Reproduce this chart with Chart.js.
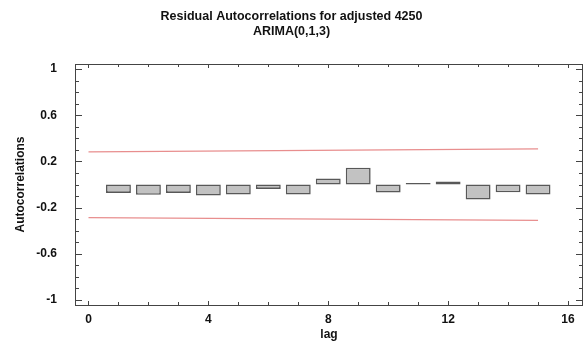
<!DOCTYPE html>
<html>
<head>
<meta charset="utf-8">
<script src="https://cdn.jsdelivr.net/npm/chart.js@4/dist/chart.umd.min.js"></script>
<style>
html,body{margin:0;padding:0;background:#fff;}
#wrap{width:584px;height:343px;}
</style>
</head>
<body>
<div id="wrap"><canvas id="c" width="584" height="343"></canvas></div>
<script>
// ---- data ----
const lags = [1,2,3,4,5,6,7,8,9,10,11,12,13,14,15];
const acf = [-0.073,-0.089,-0.073,-0.096,-0.087,-0.038,-0.087,0.053,0.146,-0.070,0.014,0.026,-0.130,-0.068,-0.087];
const limitLags = [0, 15];
const upperLimit = [0.283, 0.309];
const lowerLimit = [-0.287, -0.310];
const xTickValues = [0, 4, 8, 12, 16];
const yTickValues = [-1, -0.6, -0.2, 0.2, 0.6, 1];
const yTickLabels = ['-1', '-0.6', '-0.2', '0.2', '0.6', '1'];
const titleLines = ['Residual Autocorrelations for adjusted 4250', 'ARIMA(0,1,3)'];

const FONT = '"Liberation Sans", Arial, Helvetica, sans-serif';
const TEXT = '#111111';

const frameTicks = {
  id: 'frameTicks',
  afterDraw(chart) {
    const {ctx, chartArea: a, scales: {x, y}} = chart;
    ctx.save();
    ctx.strokeStyle = '#444';
    ctx.lineWidth = 1;
    ctx.strokeRect(Math.round(a.left) + 0.5, Math.round(a.top) + 0.5,
                   Math.round(a.right - a.left) - 1, Math.round(a.bottom - a.top));
    ctx.beginPath();
    for (let k = -10; k <= 10; k++) {
      const v = k / 10;
      const py = Math.round(y.getPixelForValue(v)) + 0.5;
      const major = yTickValues.some(t => Math.abs(t - v) < 1e-9);
      const len = major ? 7 : 4;
      ctx.moveTo(a.left, py); ctx.lineTo(a.left + len, py);
      ctx.moveTo(a.right, py); ctx.lineTo(a.right - len, py);
    }
    for (let k = 0; k <= 16; k++) {
      const px = Math.round(x.getPixelForValue(k)) + 0.5;
      const major = xTickValues.includes(k);
      const len = major ? 4 : 3;
      ctx.moveTo(px, a.bottom); ctx.lineTo(px, a.bottom - len);
      ctx.moveTo(px, a.top); ctx.lineTo(px, a.top + len);
    }
    ctx.stroke();
    ctx.restore();
  }
};

new Chart(document.getElementById('c'), {
  type: 'bar',
  data: {
    datasets: [
      {
        type: 'line',
        data: limitLags.map((l, i) => ({x: l, y: upperLimit[i]})),
        borderColor: '#e88e8e',
        borderWidth: 1.3,
        pointRadius: 0,
        fill: false
      },
      {
        type: 'line',
        data: limitLags.map((l, i) => ({x: l, y: lowerLimit[i]})),
        borderColor: '#e88e8e',
        borderWidth: 1.3,
        pointRadius: 0,
        fill: false
      },
      {
        type: 'bar',
        data: lags.map((l, i) => ({x: l, y: acf[i]})),
        backgroundColor: '#c2c2c2',
        borderColor: '#585858',
        borderWidth: 1.6,
        borderSkipped: false,
        barPercentage: 0.83,
        categoryPercentage: 1.0
      }
    ]
  },
  options: {
    responsive: false,
    animation: false,
    layout: {padding: {left: 0, right: 1, top: 0, bottom: 0}},
    plugins: {
      legend: {display: false},
      tooltip: {enabled: false},
      title: {
        display: true,
        text: titleLines,
        color: TEXT,
        font: {family: FONT, size: 12.5, weight: 'bold', lineHeight: 1.2},
        padding: {top: 9, bottom: 25}
      }
    },
    scales: {
      x: {
        type: 'linear',
        min: -0.45,
        max: 16.5,
        offset: false,
        grid: {display: false, drawTicks: false},
        border: {display: false},
        afterBuildTicks: s => { s.ticks = xTickValues.map(v => ({value: v})); },
        afterFit: s => { s.height = 38; },
        ticks: {
          color: TEXT,
          padding: 7,
          maxRotation: 0,
          font: {family: FONT, size: 12, weight: 'bold'},
          callback: v => String(v)
        },
        title: {
          display: true,
          text: 'lag',
          color: TEXT,
          font: {family: FONT, size: 12, weight: 'bold', lineHeight: 1.2},
          padding: {top: 0, bottom: 1}
        }
      },
      y: {
        type: 'linear',
        min: -1.044,
        max: 1.044,
        grid: {display: false, drawTicks: false},
        border: {display: false},
        afterBuildTicks: s => { s.ticks = yTickValues.map(v => ({value: v})); },
        afterFit: s => { s.width = 75; },
        ticks: {
          color: TEXT,
          padding: 18,
          font: {family: FONT, size: 12, weight: 'bold'},
          callback: v => {
            const i = yTickValues.findIndex(t => Math.abs(t - v) < 1e-9);
            return i >= 0 ? yTickLabels[i] : '';
          }
        },
        title: {
          display: true,
          text: 'Autocorrelations',
          color: TEXT,
          font: {family: FONT, size: 12, weight: 'bold', lineHeight: 1.2},
          padding: {top: 13, bottom: 0}
        }
      }
    }
  },
  plugins: [frameTicks]
});
</script>
</body>
</html>
